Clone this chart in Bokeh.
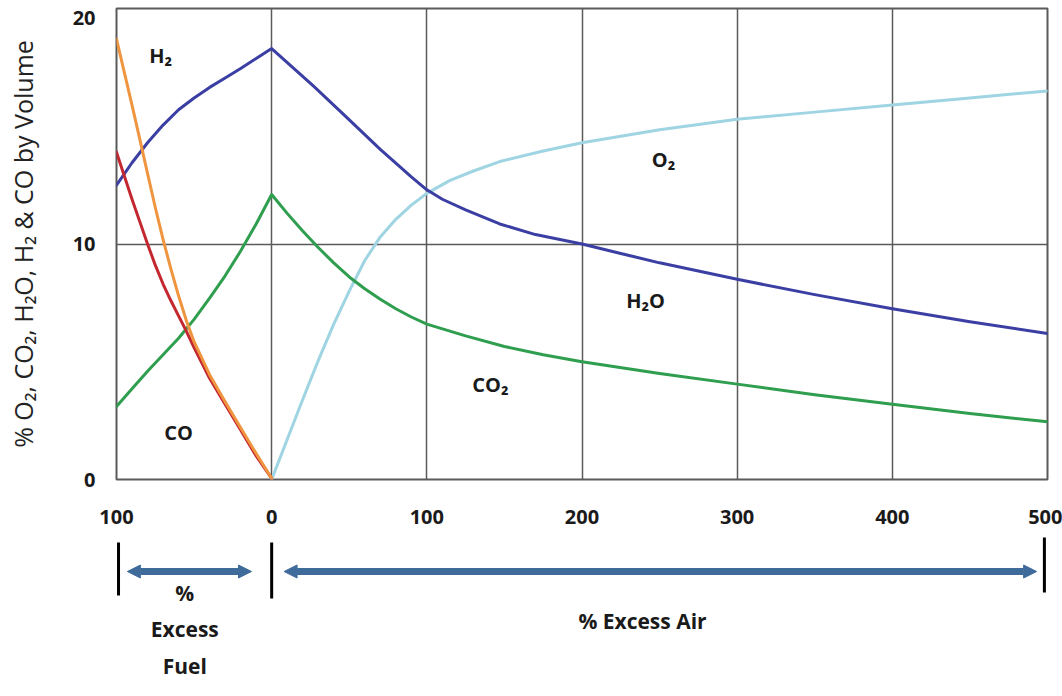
from bokeh.plotting import figure
from bokeh.layouts import column
from bokeh.models import Range1d, FixedTicker, Arrow, NormalHead, Label, ColumnDataSource
from bokeh.embed import file_html
from bokeh.resources import INLINE
from bokeh.core.properties import value

# ---------------- data ----------------
x_ticks = [-100, 0, 100, 200, 300, 400, 500]
x_tick_labels = ["100", "0", "100", "200", "300", "400", "500"]
y_ticks = [0, 10, 20]
y_tick_labels = ["0", "10", "20"]

h2o_x = [-100, -90, -80, -70, -60, -50, -40, -30, -20, -10, 0,
         27, 48, 70, 90, 100, 110, 125, 147, 170, 200, 225, 250, 300, 350, 400, 450, 500]
h2o_y = [12.5, 13.45, 14.3, 15.05, 15.7, 16.2, 16.65, 17.05, 17.45, 17.88, 18.3,
         16.7, 15.4, 14.02, 12.85, 12.3, 11.9, 11.45, 10.85, 10.4, 10.0, 9.6, 9.2, 8.5, 7.85, 7.25, 6.7, 6.2]

co2_x = [-100, -90, -80, -70, -60, -50, -40, -30, -20, -10, 0,
         10, 20, 30, 40, 50, 60, 70, 80, 90, 100, 125, 150, 175, 200, 250, 300, 350, 400, 450, 500]
co2_y = [3.1, 3.85, 4.6, 5.3, 6.0, 6.8, 7.7, 8.65, 9.7, 10.85, 12.1,
         11.3, 10.55, 9.85, 9.2, 8.6, 8.1, 7.65, 7.25, 6.9, 6.6, 6.1, 5.65, 5.3, 5.0, 4.5, 4.05, 3.6, 3.2, 2.8, 2.45]

o2_x = [0, 10, 20, 30, 40, 50, 60, 70, 80, 90, 100, 115, 130, 147, 175, 200, 250, 300, 350, 400, 450, 500]
o2_y = [0.0, 1.7, 3.4, 5.05, 6.6, 8.0, 9.3, 10.3, 11.05, 11.65, 12.15, 12.7, 13.1, 13.5, 13.95, 14.3,
        14.85, 15.3, 15.6, 15.9, 16.2, 16.5]

co_x = [-100, -95, -90, -85, -80, -75, -70, -65, -60, -55, -50, -40, -30, -20, -10, 0]
co_y = [13.9, 12.9, 11.9, 10.95, 10.0, 9.1, 8.3, 7.6, 6.95, 6.3, 5.6, 4.3, 3.2, 2.1, 1.0, 0.05]

h2_x = [-100, -95, -90, -85, -80, -75, -70, -65, -60, -55, -50, -40, -30, -20, -10, 0]
h2_y = [18.7, 17.3, 15.9, 14.45, 13.0, 11.55, 10.2, 8.95, 7.8, 6.75, 5.85, 4.45, 3.3, 2.2, 1.1, 0.05]

label_text = ["H\u2082", "CO", "O\u2082", "H\u2082O", "CO\u2082"]
label_x = [-71.6, -60, 252.5, 241, 141]
label_y = [18.0, 2.0, 13.6, 7.6, 4.05]

# ---------------- styling ----------------
FONT = "Open Sans"
GRID = "#5a5a5a"
C_H2O = "#3b3fa3"
C_CO2 = "#2f9e4e"
C_O2 = "#9fd4e2"
C_CO = "#c3272f"
C_H2 = "#f0953f"
C_ARROW = "#3f6b9b"
TXT = "#1a1a1a"

p = figure(width=1062, height=535, x_range=Range1d(-100, 500), y_range=Range1d(0, 20),
           output_backend="svg", toolbar_location=None,
           min_border_left=116, min_border_right=15, min_border_top=8, min_border_bottom=56)
p.background_fill_color = "white"
p.border_fill_color = "white"
p.outline_line_color = GRID
p.outline_line_width = 2
p.outline_line_alpha = 1

p.xaxis.ticker = FixedTicker(ticks=x_ticks)
p.xaxis.major_label_overrides = {t: l for t, l in zip(x_ticks, x_tick_labels)}
# the top label ("20") sits just below the frame's top edge in the reference,
# so its label is drawn a little lower; grid lines stay at the true ticks
top_label_pos = y_ticks[-1] - 0.4
p.yaxis.ticker = FixedTicker(ticks=y_ticks[:-1] + [top_label_pos])
p.yaxis.major_label_overrides = {top_label_pos: y_tick_labels[-1]}
p.ygrid.ticker = FixedTicker(ticks=y_ticks)
for ax in (p.xaxis, p.yaxis):
    ax.axis_line_color = None
    ax.major_tick_line_color = None
    ax.minor_tick_line_color = None
    ax.major_label_text_font = FONT
    ax.major_label_text_font_style = "bold"
    ax.major_label_text_font_size = "20px"
    ax.major_label_text_color = TXT
p.xaxis.major_label_standoff = 24
p.yaxis.major_label_standoff = 15
p.yaxis.axis_label = "% O\u2082, CO\u2082, H\u2082O, H\u2082 & CO by Volume"
p.yaxis.axis_label_text_font = FONT
p.yaxis.axis_label_text_font_style = "normal"
p.yaxis.axis_label_text_font_size = "25px"
p.yaxis.axis_label_text_color = "#222222"
p.yaxis.axis_label_standoff = 30

for g in (p.xgrid, p.ygrid):
    g.grid_line_color = GRID
    g.grid_line_width = 1.5
    g.grid_line_alpha = 1

lw = 3
p.line(o2_x, o2_y, line_color=C_O2, line_width=lw, line_cap="round", line_join="round")
p.line(co2_x, co2_y, line_color=C_CO2, line_width=lw, line_cap="round", line_join="round")
p.line(h2o_x, h2o_y, line_color=C_H2O, line_width=lw, line_cap="round", line_join="round")
p.line(co_x, co_y, line_color=C_CO, line_width=lw, line_cap="round", line_join="round")
p.line(h2_x, h2_y, line_color=C_H2, line_width=lw, line_cap="round", line_join="round")

lab_src = ColumnDataSource(dict(x=label_x, y=label_y, t=label_text))
p.text(x="x", y="y", text="t", source=lab_src, text_font=value(FONT), text_font_style="bold",
       text_font_size="20px", text_color=TXT, text_align="center", text_baseline="middle")

# ---------------- lower panel: ranges of excess fuel / air ----------------
p2 = figure(width=1062, height=161, x_range=p.x_range, y_range=Range1d(161, 0),
            output_backend="svg", toolbar_location=None,
            x_axis_location=None, y_axis_location=None,
            min_border_left=116, min_border_right=15, min_border_top=0, min_border_bottom=0)
p2.grid.visible = False
p2.outline_line_color = None
p2.background_fill_color = "white"
p2.border_fill_color = "white"

bar_x = [-98.7, 0, 498]
bar_top = [7, 7, 2]
bar_bot = [60, 63, 57]
p2.segment(x0=bar_x, y0=bar_top, x1=bar_x, y1=bar_bot, line_color="black", line_width=3)

for xs, xe in ((-93, -13), (8, 493)):
    p2.add_layout(Arrow(start=NormalHead(size=13, fill_color=C_ARROW, line_color=C_ARROW),
                        end=NormalHead(size=13, fill_color=C_ARROW, line_color=C_ARROW),
                        x_start=xs, y_start=36, x_end=xe, y_end=36,
                        line_color=C_ARROW, line_width=7))

for txt, x, y in (("%", -56, 57), ("Excess", -56, 93), ("Fuel", -56, 130), ("% Excess Air", 239, 85)):
    p2.add_layout(Label(x=x, y=y, text=txt, text_align="center", text_baseline="middle",
                        text_font=FONT, text_font_style="bold", text_font_size="21px",
                        text_color=TXT))

layout = column(p, p2, spacing=0)
open("out.html", "w").write(file_html(layout, INLINE))
